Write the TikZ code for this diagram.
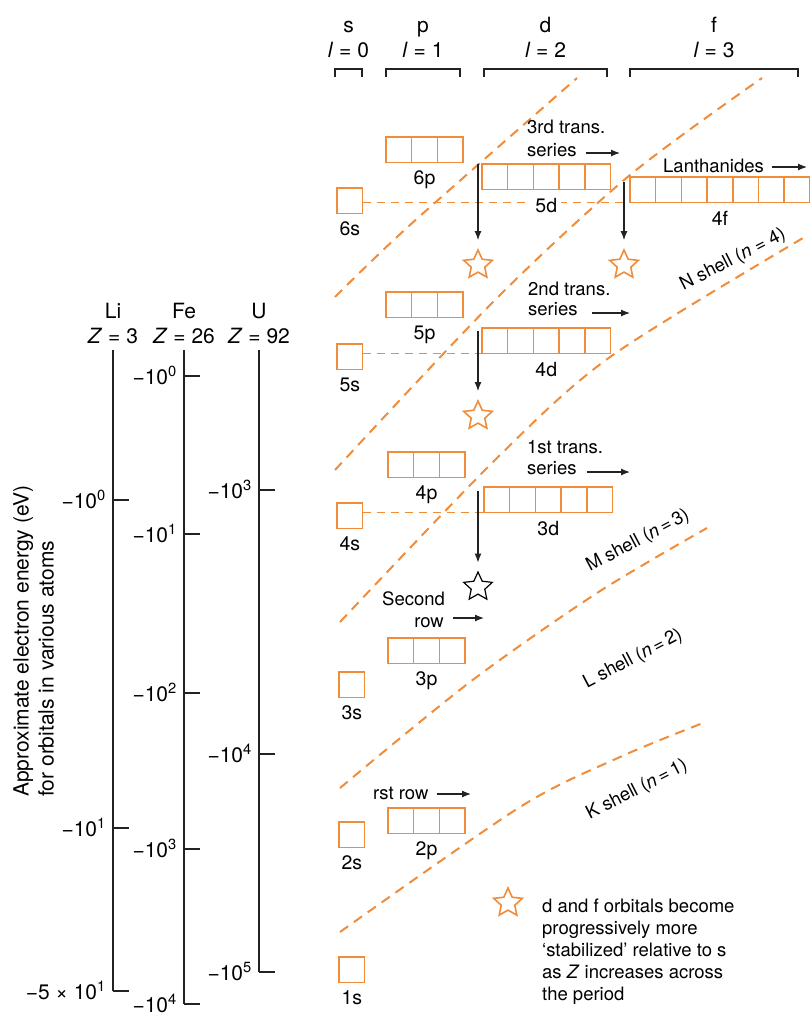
\documentclass[tikz,border=0pt]{standalone}
\usepackage{fontspec}
\setmainfont{TeX Gyre Heros}
\usepackage{tikz}
\usetikzlibrary{positioning, arrows.meta, shapes.geometric, backgrounds}
\definecolor{orbit}{HTML}{F08C3A}
\definecolor{ink}{HTML}{222222}
\newcommand{\negpow}[1]{−10\textsuperscript{#1}}
\newcommand{\bodysize}{\fontsize{18.5}{22}\selectfont}
\newcommand{\labsize}{\fontsize{19.5}{22}\selectfont}
\newcommand{\axsize}{\fontsize{21}{25}\selectfont}

\tikzset{
  orbbox/.style={draw=orbit, line width=1.5pt, minimum size=25.7pt, inner sep=0pt, outer sep=0pt},
  orblab/.style={font=\labsize, inner xsep=4pt, inner ysep=0pt, anchor=north, fill=white},
  txt/.style={font=\bodysize, inner sep=0pt},
  axlab/.style={font=\axsize, inner sep=0pt},
  shellline/.style={orbit, line width=2pt, dash pattern=on 10pt off 7pt},
  levelline/.style={orbit, line width=1.2pt, dash pattern=on 8pt off 6pt},
  starmark/.style={star, star points=5, star point ratio=2.1, minimum size=30pt, inner sep=0pt, draw=orbit, line width=1.6pt},
  arr/.style={ink, line width=1.2pt, -{Latex[length=9pt, width=7pt]}},
  rule/.style={ink, line width=1.2pt},
}

\begin{document}
\begin{tikzpicture}[x=1pt, y=-1pt]
\useasboundingbox (0,0) rectangle (809,1017);

% column headers with brackets
\foreach \l/\n/\a/\b in {s/0/335/362, p/1/386/460, d/2/484/607, f/3/630/798} {
  \node[axlab, anchor=base] (h-\l) at ({(\a+\b)/2}, 32) {\l};
  \node[axlab, anchor=base] (hl-\l) at ({(\a+\b)/2}, 57) {\textit{l} = \n};
  \draw[rule] (\a,77) -- (\a,69) -- (\b,69) -- (\b,77);
}

% energy scales for three atoms
\foreach \el/\z/\x/\yb in {Li/3/113/991, Fe/26/184/1004, U/92/259/972} {
  \node[axlab, anchor=base] (\el-name) at (\x,318) {\el};
  \node[axlab, anchor=base] (\el-z) at (\x,343) {\textit{Z} = \z};
  \draw[rule] (\x,350) -- (\x,\yb);
}
\foreach \x/\y/\t in {113/500/{\negpow{0}}, 113/828/{\negpow{1}}, 113/991/{−5 × 10\textsuperscript{1}},
    184/376/{\negpow{0}}, 184/534/{\negpow{1}}, 184/693/{\negpow{2}}, 184/849/{\negpow{3}}, 184/1004/{\negpow{4}},
    259/490/{\negpow{3}}, 259/754/{\negpow{4}}, 259/972/{\negpow{5}}} {
  \draw[rule] (\x,\y) -- ++(16,0);
  \node[axlab, anchor=base east] (tk-\x-\y) at (\x-7, \y+8) {\t};
}
\node[axlab, rotate=90, align=left, anchor=north west] (ylab) at (13,797)
  {Approximate electron energy (eV)\\for orbitals in various atoms};

% orbital boxes
\foreach \nm/\x/\y/\n in {6s/337/188/1, 5s/337/344/1, 4s/337/503/1, 3s/339/672/1, 2s/339/822/1, 1s/339/957/1,
    6p/386/137/3, 5p/386/292/3, 4p/388/452/3, 3p/388/638/3, 2p/388/808/3,
    5d/482/164/5, 4d/482/328/5, 3d/484/487/5, 4f/630/177/7} {
  \foreach \k in {1,...,\n}
    \node[orbbox] (\nm-\k) at ({\x+(\k-0.5)*25.7}, {\y+12.85}) {};
  \node[orblab] (\nm-lab) at ({\x+\n*12.85}, {\y+33.7}) {\nm};
}

\begin{scope}[on background layer]
  \draw[levelline] (6s-1.east |- 4f-1.south) -- (4f-1.south west);
  \draw[levelline] (5s-1.east |- 4d-1.south) -- (4d-1.south west);
  \draw[levelline] (4s-1.east |- 3d-1.south) -- (3d-1.south west);
  % shell boundaries
  \draw[shellline] plot[smooth] coordinates {(335,297) (410,225) (577,78)};
  \draw[shellline] plot[smooth] coordinates {(335,470) (495,300) (630,175) (762,78)};
  \draw[shellline] plot[smooth] coordinates {(340,622) (495,460) (610,357) (803,238)};
  \draw[shellline] plot[smooth] coordinates {(340,788) (470,682) (597,593) (707,528)};
  \draw[shellline] plot[smooth] coordinates {(340,932) (520,807) (620,757) (703,723)};
\end{scope}

% stabilization stars
\node[starmark] (st5d) at (478,265) {};
\node[starmark] (st4f) at (624,265) {};
\node[starmark] (st4d) at (478,416) {};
\node[starmark, draw=black, line width=1.2pt] (st3d) at (478,587) {};
\draw[arr, shorten >=8pt] (st5d |- 5d-1.north) -- (st5d.north);
\draw[arr, shorten <=5pt, shorten >=8pt] (st4f |- 4f-1.north) -- (st4f.north);
\draw[arr, shorten <=3pt, shorten >=8pt] (st4d |- 4d-1.north) -- (st4d.north);
\draw[arr, shorten <=4pt, shorten >=8pt] (st3d |- 3d-1.north) -- (st3d.north);

% series labels
\node[txt, anchor=base west] (tr3a) at (527,133) {3rd trans.};
\node[txt, anchor=base west] (tr3b) at (527,156) {series};
\node[txt, anchor=base west] (tr2a) at (528,295) {2nd trans.};
\node[txt, anchor=base west] (tr2b) at (528,315) {series};
\node[txt, anchor=base west] (tr1a) at (527,453) {1st trans.};
\node[txt, anchor=base west] (tr1b) at (527,474) {series};
\node[txt, anchor=base west] (row2a) at (382,605) {Second};
\node[txt, anchor=base east] (row2b) at (444,627) {row};
\node[txt, anchor=base west] (row1) at (373,799) {rst row};
\node[txt, anchor=base west] (lan) at (663,172) {Lanthanides};
\coordinate (tr3end) at (620,153);
\coordinate (tr2end) at (630,313);
\coordinate (tr1end) at (630,472);
\coordinate (row2end) at (484,618);
\coordinate (row1end) at (471,794);
\coordinate (lanend) at (807,167);
\draw[arr, shorten <=9pt] (tr3end -| tr3b.east) -- (tr3end);
\draw[arr, shorten <=14pt] (tr2end -| tr2b.east) -- (tr2end);
\draw[arr, shorten <=10pt] (tr1end -| tr1b.east) -- (tr1end);
\draw[arr, shorten <=9pt] (row2end -| row2b.east) -- (row2end);
\draw[arr, shorten <=8pt] (row1end -| row1.east) -- (row1end);
\draw[arr, shorten <=8pt] (lanend -| lan.east) -- (lanend);

% shell names
\node[txt, rotate=27] (shN) at (733,260) {N shell (\textit{n} = 4)};
\node[txt, rotate=28] (shM) at (638,541) {M shell (\textit{n}\,=\,3)};
\node[txt, rotate=27.5] (shL) at (633,659) {L shell (\textit{n}\,=\,2)};
\node[txt, rotate=27] (shK) at (637,790) {K shell (\textit{n}\,=\,1)};

% key
\node[starmark] (stkey) at (508,903) {};
\node[txt, align=left, anchor=north west] (key) at (542,898.5)
  {d and f orbitals become\\progressively more\\‘stabilized’ relative to s\\as \textit{Z} increases across\\the period};
\end{tikzpicture}
\end{document}
